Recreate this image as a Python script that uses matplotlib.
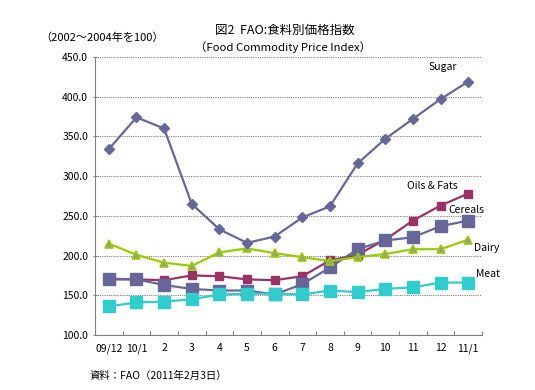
import matplotlib
matplotlib.use("Agg")
import matplotlib.pyplot as plt
import numpy as np

plt.rcParams['font.family'] = ['Noto Sans CJK JP', 'DejaVu Sans']

months = ["09/12", "10/1", "2", "3", "4", "5", "6", "7", "8", "9", "10", "11", "12", "11/1"]
sugar = [334, 374, 360, 265, 233, 216, 224, 248, 262, 316, 347, 372, 397, 419]
oils = [170, 170, 169, 175, 174, 170, 169, 174, 194, 201, 220, 244, 263, 278]
cereals = [171, 170, 163, 158, 156, 156, 151, 164, 185, 208, 219, 223, 237, 244]
dairy = [215, 201, 191, 187, 204, 209, 203, 198, 193, 198, 202, 208, 208, 220]
meat = [136, 141, 142, 145, 151, 152, 152, 151, 156, 154, 158, 160, 166, 166]
yticks = [100, 150, 200, 250, 300, 350, 400, 450]

fig = plt.figure(figsize=(5.35, 3.9), dpi=100)
ax = fig.add_axes([95/535, 55/390, 387/535, 278/390])
x = np.arange(len(months))

ax.plot(x, oils, color='#993366', marker='s', ms=6, lw=1.6, zorder=3)
ax.plot(x, cereals, color='#666699', marker='s', ms=8, lw=1.6, zorder=4)
ax.plot(x, dairy, color='#99CC00', marker='^', ms=6, mfc='#999999', mec='#99CC00', mew=1.2, lw=1.6, zorder=5)
ax.plot(x, sugar, color='#666699', marker='D', ms=5, lw=1.6, zorder=6)
ax.plot(x, meat, color='#33CCCC', marker='s', ms=8, lw=1.6, zorder=7)

ax.set_xlim(-0.5, len(months) - 0.5)
ax.set_ylim(100, 450)
ax.set_yticks(yticks)
ax.set_yticklabels([f"{v:.1f}" for v in yticks], fontsize=7.5)
ax.yaxis.grid(True, color='#808080', ls=(0, (1, 1)), lw=0.8)
ax.set_axisbelow(True)

ax.set_xticks(np.arange(-0.5, len(months), 1))
ax.set_xticklabels([])
ax.set_xticks(x, minor=True)
ax.set_xticklabels(months, minor=True, fontsize=7.5)
ax.tick_params(axis='x', which='minor', length=0, pad=6)
ax.tick_params(axis='x', which='major', length=3, color='#808080', direction='in')
ax.tick_params(axis='y', length=3, color='#808080', direction='inout')

for s in ['top', 'right']:
    ax.spines[s].set_visible(False)
for s in ['left', 'bottom']:
    ax.spines[s].set_color('#808080')
    ax.spines[s].set_linewidth(0.8)

fs = 7.5
ax.text(11.55, 437, "Sugar", fontsize=fs, va='center')
ax.text(10.8, 288, "Oils & Fats", fontsize=fs, va='center')
ax.text(12.3, 257, "Cereals", fontsize=fs, va='center')
ax.text(13.2, 210, "Dairy", fontsize=fs, va='center')
ax.text(13.3, 177, "Meat", fontsize=fs, va='center')

fig.text(285/535, 1 - 30/390, "図2  FAO:食料別価格指数", ha='center', va='center', fontsize=9)
fig.text(283/535, 1 - 47/390, "（Food Commodity Price Index）", ha='center', va='center', fontsize=8.2)
fig.text(40/535, 1 - 38/390, "（2002～2004年を100）", ha='left', va='center', fontsize=8)
fig.text(90/535, 1 - 376/390, "資料：FAO（2011年2月3日）", ha='left', va='center', fontsize=7.5)

fig.savefig("out.png", dpi=100)
